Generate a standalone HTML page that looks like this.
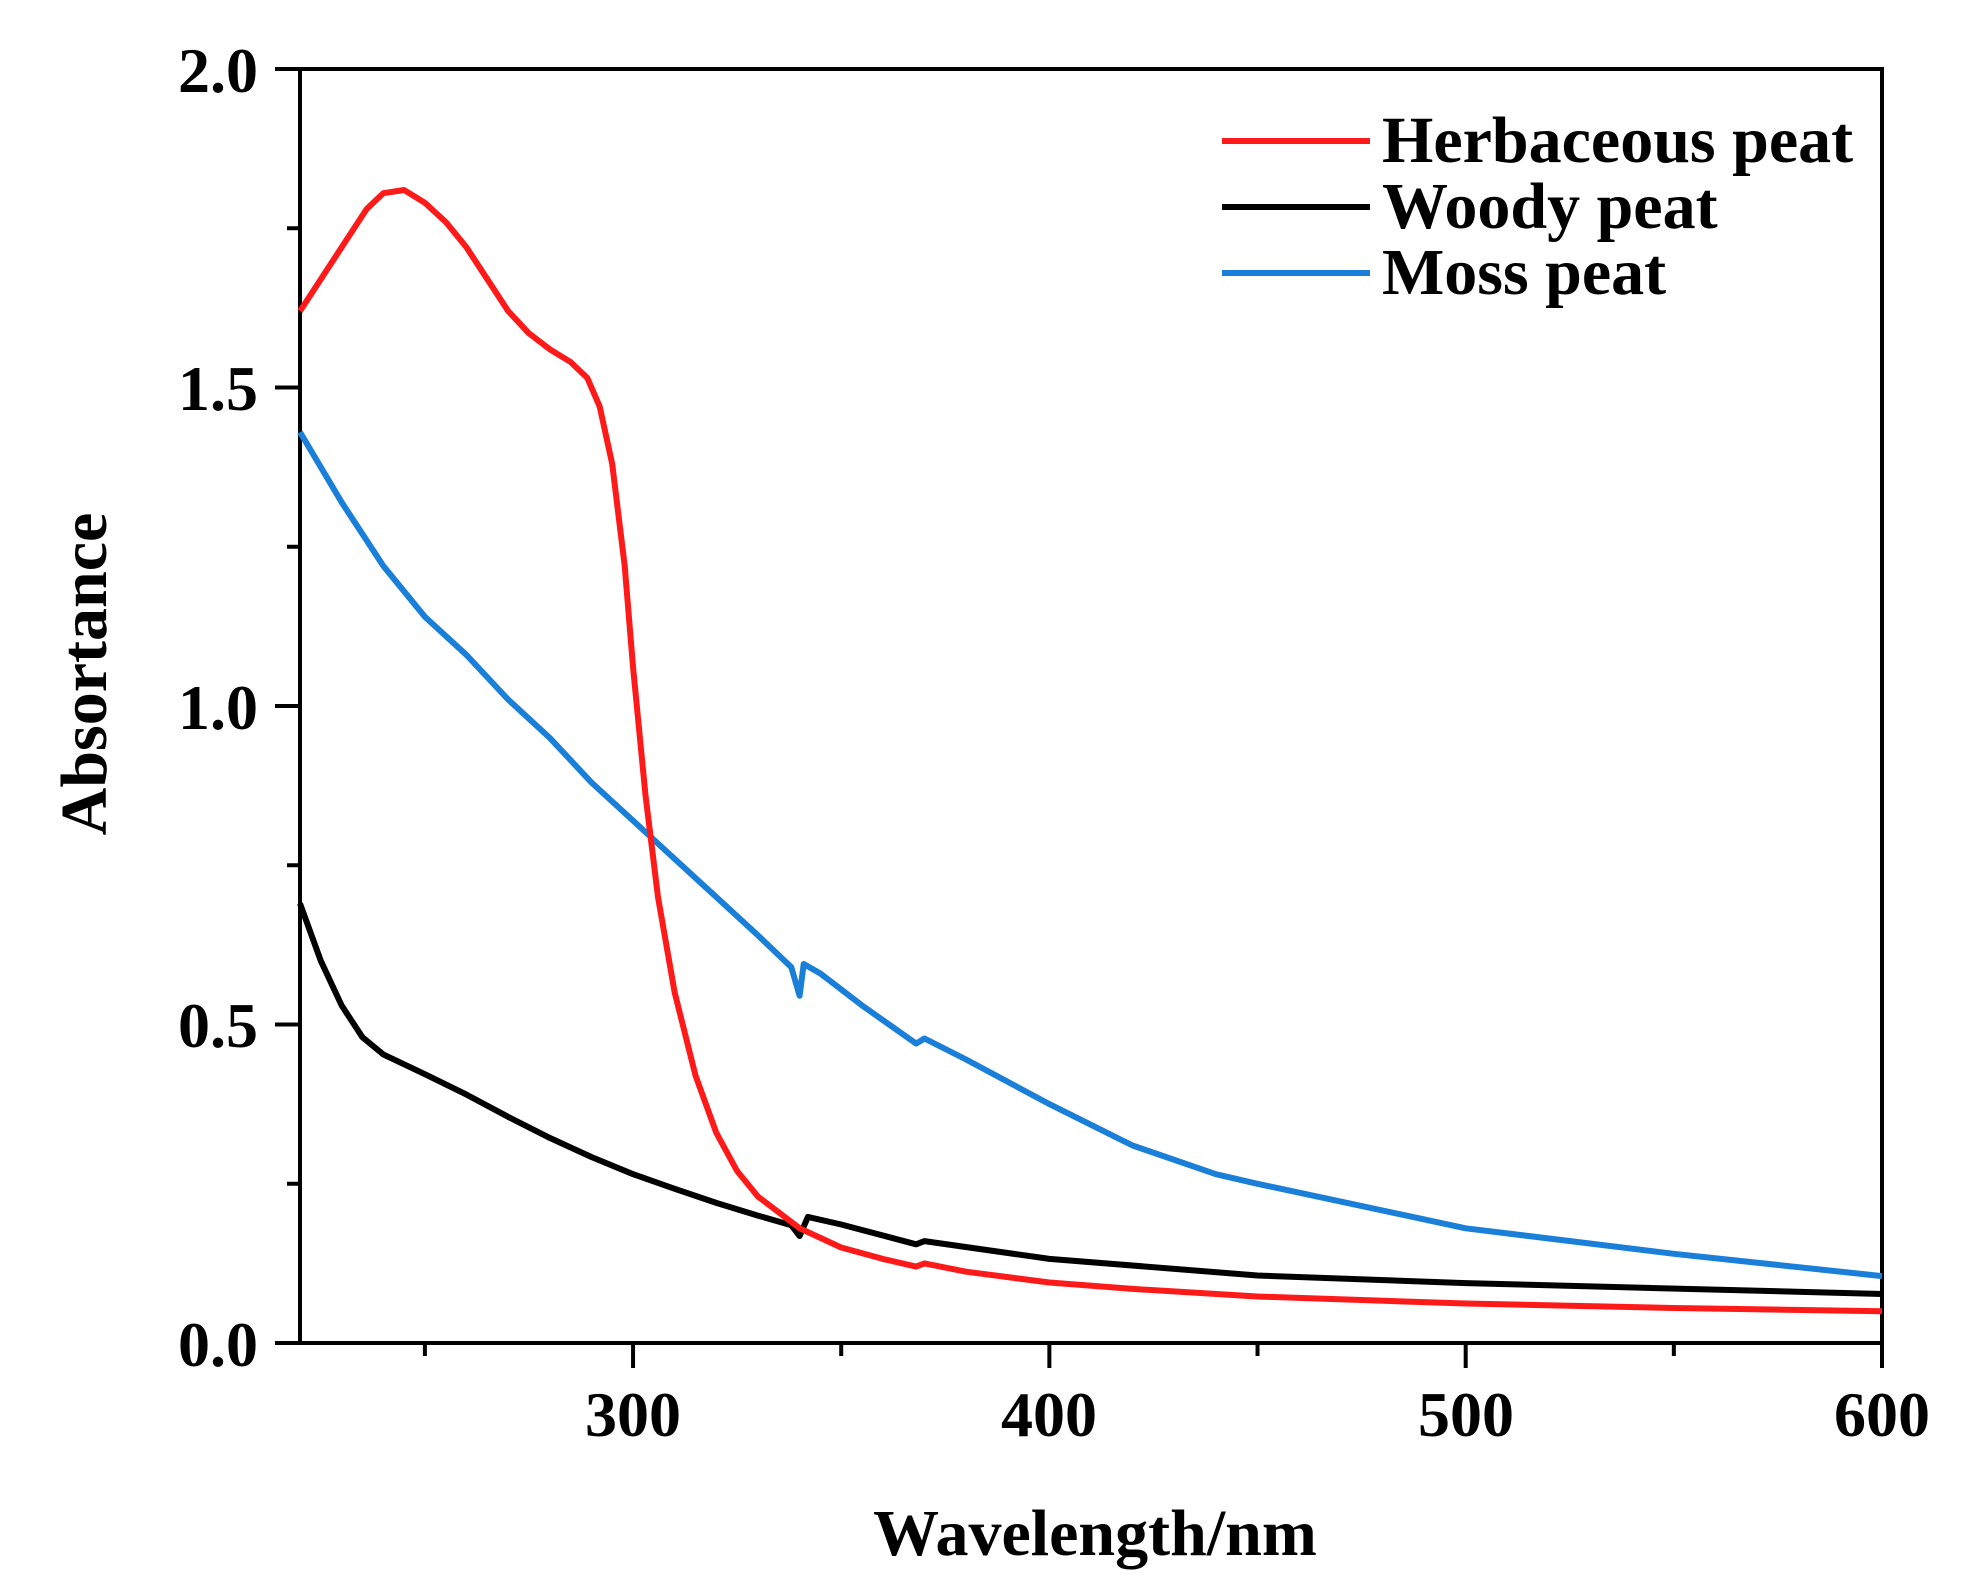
<!DOCTYPE html>
<html><head><meta charset="utf-8"><style>body{margin:0;background:#fff}svg{display:block}text{font-family:"Liberation Serif",serif;font-weight:bold;fill:#000}</style></head>
<body>
<svg id="s" width="1964" height="1589" viewBox="0 0 1964 1589" xmlns="http://www.w3.org/2000/svg">
<g id="ticks" stroke="#000" stroke-width="4"></g>
<rect x="300" y="69" width="1582" height="1274" fill="none" stroke="#000" stroke-width="4"/>
<g font-size="64" text-anchor="end">
<text x="258" y="1366">0.0</text><text x="258" y="1047">0.5</text><text x="258" y="729">1.0</text><text x="258" y="410">1.5</text><text x="258" y="92">2.0</text>
</g>
<g font-size="64" text-anchor="middle">
<text x="633" y="1436">300</text><text x="1049" y="1436">400</text><text x="1466" y="1436">500</text><text x="1882" y="1436">600</text>
</g>
<text x="1095" y="1555" font-size="66" text-anchor="middle">Wavelength/nm</text>
<text transform="translate(106,674) rotate(-90)" font-size="66" text-anchor="middle">Absortance</text>
<g stroke-width="6">
<line x1="1222" y1="141" x2="1370" y2="141" stroke="#ff1a1a"/>
<line x1="1222" y1="207" x2="1370" y2="207" stroke="#000"/>
<line x1="1222" y1="273" x2="1370" y2="273" stroke="#1a7fd9"/>
</g>
<g font-size="66">
<text x="1382" y="162">Herbaceous peat</text>
<text x="1382" y="228">Woody peat</text>
<text x="1382" y="294">Moss peat</text>
</g>
<g id="curves" fill="none" stroke-width="6" stroke-linejoin="round"></g>
</svg>
<script>
const X=w=>300+(w-220)*1582/380, Y=a=>1343-a*637;
let t=document.getElementById('ticks'),h='';
for(let w=250;w<=600;w+=50){let maj=w%100==0;h+=`<line x1="${X(w)}" y1="1343" x2="${X(w)}" y2="${1343+(maj?25:13)}"/>`;}
for(let a=0;a<=2.001;a+=0.25){let maj=Math.abs(a*2-Math.round(a*2))<1e-6;h+=`<line x1="300" y1="${Y(a)}" x2="${300-(maj?25:13)}" y2="${Y(a)}"/>`;}
t.innerHTML=h;
const herb=[[220,1.62],[230,1.72],[236,1.78],[240,1.805],[245,1.81],[250,1.79],[255,1.76],[260,1.72],[265,1.67],[270,1.62],[275,1.585],[280,1.56],[285,1.54],[289,1.515],[292,1.47],[295,1.38],[298,1.22],[300,1.06],[303,0.86],[306,0.70],[310,0.55],[315,0.42],[320,0.33],[325,0.27],[330,0.23],[335,0.205],[340,0.18],[345,0.165],[350,0.15],[360,0.132],[368,0.12],[370,0.125],[380,0.112],[400,0.095],[420,0.085],[450,0.073],[500,0.062],[550,0.055],[600,0.05]];
const moss=[[220,1.43],[230,1.32],[240,1.22],[250,1.14],[260,1.08],[270,1.01],[280,0.95],[290,0.88],[300,0.82],[310,0.76],[320,0.70],[330,0.64],[338,0.59],[340,0.545],[341,0.595],[345,0.58],[355,0.53],[368,0.47],[370,0.478],[380,0.445],[400,0.375],[420,0.31],[440,0.265],[450,0.25],[470,0.222],[500,0.18],[550,0.14],[600,0.105]];
const wood=[[220,0.69],[225,0.60],[230,0.53],[235,0.48],[240,0.453],[250,0.422],[260,0.39],[270,0.355],[280,0.322],[290,0.292],[300,0.265],[310,0.242],[320,0.22],[330,0.2],[338,0.185],[340,0.168],[342,0.198],[350,0.186],[368,0.155],[370,0.16],[400,0.132],[450,0.106],[500,0.094],[600,0.077]];
let c=document.getElementById('curves'),s='';
for(const [d,col] of [[wood,'#000'],[moss,'#1a7fd9'],[herb,'#ff1a1a']]){s+=`<path stroke="${col}" d="M${d.map(p=>X(p[0]).toFixed(1)+','+Y(p[1]).toFixed(1)).join('L')}"/>`;}
c.innerHTML=s;
</script>
</body></html>
